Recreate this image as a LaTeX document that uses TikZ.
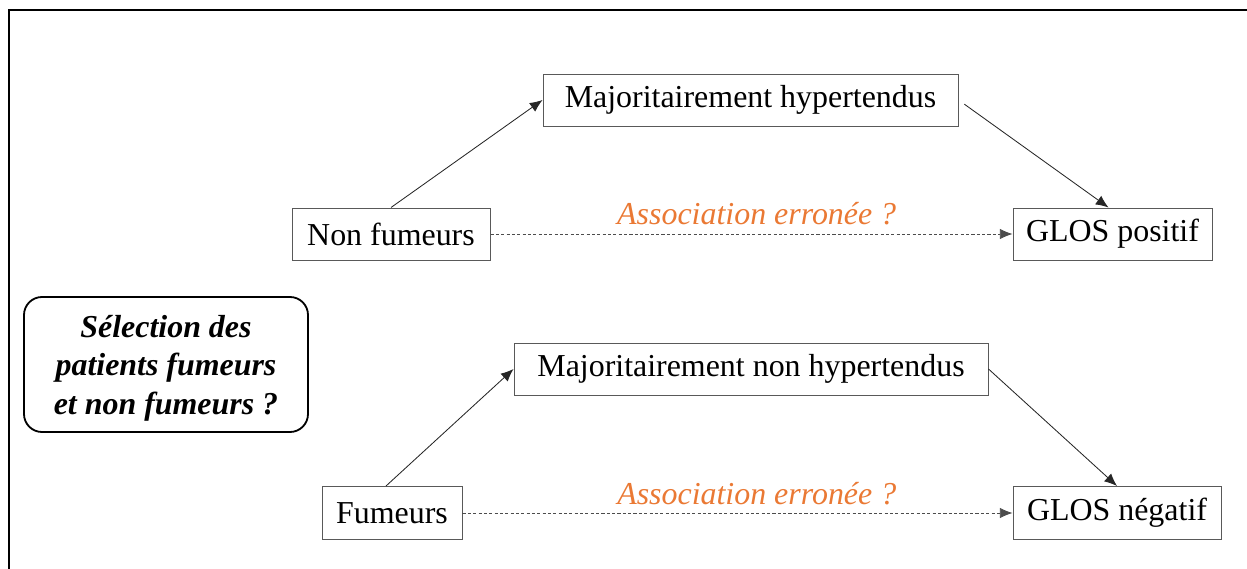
\documentclass[tikz,border=0pt]{standalone}
\usepackage{fontspec}
\setmainfont{Liberation Serif}
\usetikzlibrary{arrows.meta}
\usetikzlibrary{positioning}
\definecolor{orangeasso}{RGB}{234,121,52}

\begin{document}
\begin{tikzpicture}[x=0.025cm,y=-0.025cm]
    \def\px{0.025cm}
    \tikzstyle{boite}=[draw=black!65,line width=0.7pt,minimum height=52*\px,inner sep=0pt,font=\fontsize{22.7}{27.4}\selectfont]
    \tikzstyle{selection}=[draw=black,line width=1.3pt,rounded corners=18*\px,minimum width=284*\px,minimum height=135*\px,align=center,font=\fontsize{22.7}{27.4}\selectfont\bfseries\itshape]
    \tikzstyle{fleche}=[-{Latex[length=9pt,width=7.5pt]},line width=0.6pt,draw=black!85]
    \tikzstyle{pointille}=[fleche,dash pattern=on 2.2pt off 1.6pt,draw=black!70]
    \tikzstyle{erreur}=[anchor=base,yshift=9*\px,text=orangeasso,font=\fontsize{22.7}{27.4}\selectfont\itshape]

\useasboundingbox (0,0) rectangle (1247,569);

% Cadre
\draw[line width=1.6pt] (9,580) -- (9,10) -- (1260,10);

% Non fumeurs
\node[boite,minimum width=415*\px] (H1) at (750.5,100) {Majoritairement hypertendus};
\node[boite,minimum width=198*\px] (NF) at (391,234) {Non fumeurs};
\node[boite,minimum width=199*\px] (GP) at (1112.5,234) {GLOS positif};

% Fumeurs
\node[boite,minimum width=474*\px] (H2) at (751,369) {Majoritairement non hypertendus};
\node[boite,minimum width=140*\px,minimum height=53*\px] (F) at (392,513) {Fumeurs};
\node[boite,minimum width=208*\px,minimum height=53*\px] (GN) at (1117,513) {GLOS négatif};

% Question
\node[selection,text depth=-0.1cm] (S) at (166,364.5) {Sélection des\\patients fumeurs\\et non fumeurs ?};

% Fleches
\draw[fleche] (NF.north) -- (H1.west);
\draw[fleche,shorten <=0.18cm] (H1.east) -- ([xshift=-0.1cm]GP.north);
\draw[pointille] (NF.east) -- (GP.west) node[erreur,pos=0.51] {Association erronée ?};

\draw[fleche] ([xshift=-0.15cm]F.north) -- (H2.west);
\draw[fleche] (H2.east) -- (GN.north);
\draw[pointille] (F.east) -- (GN.west) node[erreur,pos=0.535] {Association erronée ?};

\end{tikzpicture}
\end{document}
